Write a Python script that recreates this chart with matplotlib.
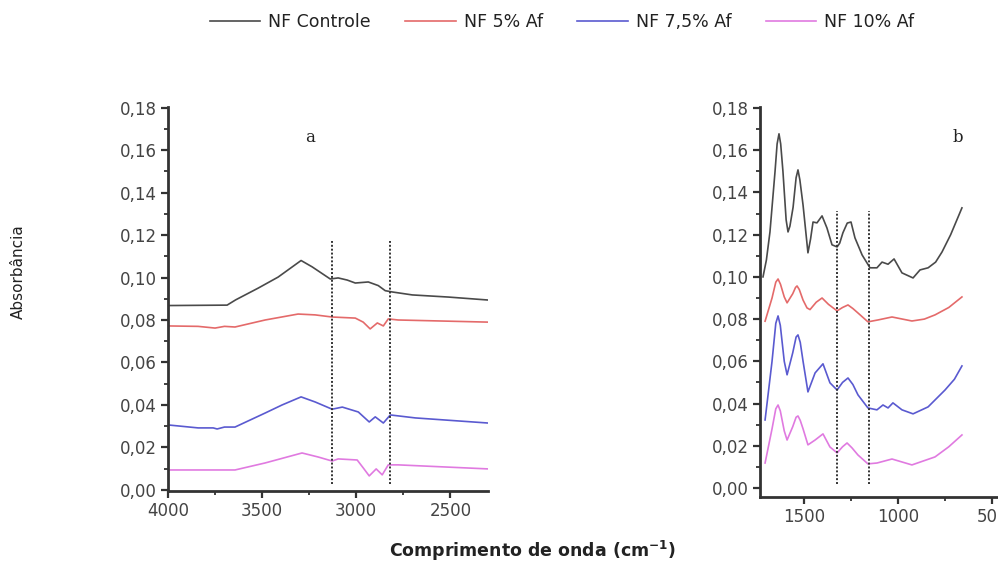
import matplotlib
matplotlib.use("Agg")
import matplotlib.pyplot as plt
from matplotlib.ticker import MultipleLocator, FuncFormatter

# ---------------- data ----------------
series_labels = ["NF Controle", "NF 5% Af", "NF 7,5% Af", "NF 10% Af"]
series_colors = ["#4a4a4a", "#e46a6a", "#5a5ad0", "#e07ae0"]

# panel a (4000-2300 cm-1)
a_ctrl_x = [4000, 3686, 3640, 3521, 3415, 3293, 3234, 3138, 3096, 3048, 3005, 2936, 2883, 2846, 2809, 2702, 2511, 2300]
a_ctrl_y = [0.0868, 0.0870, 0.0895, 0.0950, 0.1002, 0.1080, 0.1050, 0.0993, 0.0998, 0.0988, 0.0974, 0.0979, 0.0962, 0.0938, 0.0932, 0.0918, 0.0908, 0.0894]

a_5_x = [4000, 3840, 3750, 3700, 3644, 3484, 3309, 3218, 3128, 3005, 2963, 2926, 2888, 2856, 2830, 2777, 2300]
a_5_y = [0.0772, 0.0770, 0.0762, 0.0770, 0.0767, 0.0800, 0.0828, 0.0824, 0.0814, 0.0809, 0.0790, 0.0758, 0.0786, 0.0772, 0.0805, 0.0800, 0.0790]

a_75_x = [4000, 3840, 3760, 3739, 3700, 3644, 3484, 3394, 3293, 3218, 3128, 3074, 2989, 2931, 2899, 2856, 2819, 2686, 2300]
a_75_y = [0.0306, 0.0292, 0.0292, 0.0287, 0.0296, 0.0296, 0.0362, 0.0400, 0.0438, 0.0414, 0.0380, 0.0390, 0.0367, 0.0320, 0.0344, 0.0315, 0.0353, 0.0339, 0.0315]

a_10_x = [4000, 3644, 3484, 3288, 3202, 3128, 3096, 2995, 2963, 2931, 2894, 2862, 2830, 2777, 2300]
a_10_y = [0.0094, 0.0094, 0.0127, 0.0174, 0.0155, 0.0136, 0.0146, 0.0141, 0.0104, 0.0066, 0.0099, 0.0071, 0.0118, 0.0118, 0.0099]

# panel b (1730-660 cm-1)
b_ctrl_x = [1718, 1700, 1681, 1654, 1643, 1633, 1624, 1612, 1595, 1585, 1575, 1558, 1542, 1532, 1522, 1505, 1479, 1465, 1452, 1431, 1404, 1378, 1351, 1324, 1310, 1293, 1270, 1250, 1229, 1191, 1149, 1112, 1085, 1053, 1021, 979, 920, 883, 840, 800, 766, 720, 660]
b_ctrl_y = [0.1000, 0.1080, 0.1213, 0.1500, 0.1630, 0.1678, 0.1630, 0.1500, 0.1270, 0.1213, 0.1240, 0.1330, 0.1470, 0.1507, 0.1460, 0.1340, 0.1114, 0.1180, 0.1260, 0.1256, 0.1289, 0.1232, 0.1152, 0.1142, 0.1160, 0.1209, 0.1255, 0.1260, 0.1185, 0.1104, 0.1043, 0.1043, 0.1070, 0.1060, 0.1085, 0.1019, 0.0995, 0.1033, 0.1043, 0.1070, 0.1118, 0.1200, 0.1327]

b_5_x = [1707, 1670, 1650, 1638, 1625, 1605, 1590, 1560, 1545, 1537, 1525, 1505, 1484, 1468, 1435, 1404, 1370, 1324, 1295, 1266, 1240, 1213, 1160, 1106, 1032, 926, 860, 803, 730, 660]
b_5_y = [0.0790, 0.0900, 0.0975, 0.0990, 0.0965, 0.0905, 0.0877, 0.0920, 0.0950, 0.0957, 0.0940, 0.0890, 0.0853, 0.0845, 0.0880, 0.0900, 0.0870, 0.0839, 0.0855, 0.0867, 0.0850, 0.0829, 0.0787, 0.0796, 0.0810, 0.0791, 0.0800, 0.0820, 0.0855, 0.0905]

b_75_x = [1707, 1670, 1650, 1638, 1626, 1605, 1590, 1560, 1542, 1532, 1520, 1505, 1479, 1460, 1441, 1399, 1362, 1324, 1295, 1266, 1240, 1213, 1160, 1112, 1080, 1053, 1027, 979, 920, 840, 750, 700, 660]
b_75_y = [0.0322, 0.0600, 0.0780, 0.0815, 0.0770, 0.0600, 0.0536, 0.0640, 0.0715, 0.0725, 0.0690, 0.0600, 0.0455, 0.0500, 0.0545, 0.0588, 0.0498, 0.0464, 0.0500, 0.0521, 0.0490, 0.0441, 0.0379, 0.0370, 0.0393, 0.0379, 0.0403, 0.0370, 0.0351, 0.0384, 0.0464, 0.0515, 0.0578]

b_10_x = [1707, 1670, 1650, 1638, 1626, 1605, 1590, 1560, 1542, 1532, 1520, 1505, 1479, 1441, 1399, 1362, 1324, 1295, 1271, 1245, 1213, 1160, 1112, 1032, 926, 803, 730, 660]
b_10_y = [0.0118, 0.0280, 0.0375, 0.0393, 0.0365, 0.0270, 0.0227, 0.0290, 0.0335, 0.0341, 0.0320, 0.0280, 0.0204, 0.0227, 0.0256, 0.0194, 0.0166, 0.0195, 0.0213, 0.0190, 0.0156, 0.0114, 0.0118, 0.0137, 0.0109, 0.0147, 0.0195, 0.0251]

a_marks = [3128, 2820]
b_marks = [1324, 1154]

# ---------------- figure ----------------
W, H = 998, 564
fig = plt.figure(figsize=(W / 100, H / 100), dpi=100)

def px_axes(left, right, bottom_px, top_px):
    return fig.add_axes([left / W, 1 - bottom_px / H, (right - left) / W, (bottom_px - top_px) / H])

axA = px_axes(168, 488, 491, 106.5)
axB = px_axes(760, 1005, 497, 107)

tick_color = "#444444"
spine_color = "#333333"
fmt = FuncFormatter(lambda v, p: f"{v:.2f}".replace(".", ","))

def style(ax):
    for s in ["top", "right"]:
        ax.spines[s].set_visible(False)
    for s in ["left", "bottom"]:
        ax.spines[s].set_linewidth(2)
        ax.spines[s].set_color(spine_color)
    ax.yaxis.set_major_locator(MultipleLocator(0.02))
    ax.yaxis.set_minor_locator(MultipleLocator(0.01))
    ax.xaxis.set_major_locator(MultipleLocator(500))
    ax.xaxis.set_minor_locator(MultipleLocator(250))
    ax.yaxis.set_major_formatter(fmt)
    ax.tick_params(which="major", direction="out", length=5, width=1.6, color=spine_color,
                   labelsize=12, labelcolor=tick_color, pad=3)
    ax.tick_params(which="minor", direction="out", length=3, width=1.3, color=spine_color)

xsA = [a_ctrl_x, a_5_x, a_75_x, a_10_x]
ysA = [a_ctrl_y, a_5_y, a_75_y, a_10_y]
xsB = [b_ctrl_x, b_5_x, b_75_x, b_10_x]
ysB = [b_ctrl_y, b_5_y, b_75_y, b_10_y]

handles = []
for x, y, c, lab in zip(xsA, ysA, series_colors, series_labels):
    h, = axA.plot(x, y, color=c, lw=1.2, label=lab)
    handles.append(h)
for x, y, c in zip(xsB, ysB, series_colors):
    axB.plot(x, y, color=c, lw=1.2)

axA.vlines(a_marks, 0.003, 0.117, colors="#333333", linestyles=(0, (1, 1)), lw=1.4)
axB.vlines(b_marks, 0.002, 0.131, colors="#333333", linestyles=(0, (1, 1)), lw=1.4)

axA.set_xlim(4000, 2300)
axA.set_ylim(-0.0005, 0.1805)
axB.set_xlim(1734, 431)
axB.set_ylim(-0.0043, 0.1805)
style(axA)
style(axB)

axA.text(3245, 0.166, "a", family="DejaVu Serif", fontsize=12, ha="center", va="center", color="#222222")
axB.text(681, 0.166, "b", family="DejaVu Serif", fontsize=12, ha="center", va="center", color="#222222")

fig.text(18 / W, 1 - 272 / H, "Absorbância", rotation=90, ha="center", va="center", fontsize=11, color="#222222")
fig.text(533 / W, 1 - 551 / H, "Comprimento de onda (cm$^{\\mathbf{-1}}$)", ha="center", va="center",
         fontsize=12.5, fontweight="bold", color="#222222")

leg = fig.legend(handles=handles, loc="center", bbox_to_anchor=(562 / W, 1 - 22 / H), ncol=4,
                 frameon=False, fontsize=12.5, handlelength=2.9, handletextpad=0.45, columnspacing=2.0,
                 borderpad=0, borderaxespad=0)
for t in leg.get_texts():
    t.set_color("#222222")

fig.savefig("out.png", dpi=100)
